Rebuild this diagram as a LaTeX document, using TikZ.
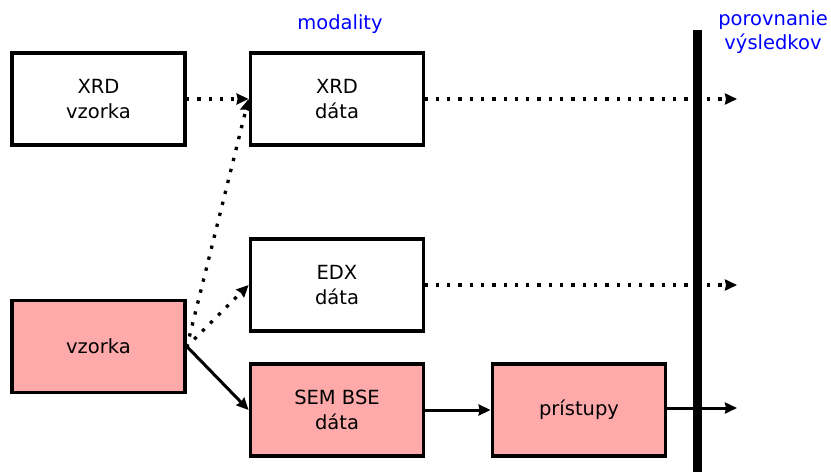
\documentclass[tikz,border=0pt]{standalone}
\usepackage{fontspec}
\setmainfont{DejaVu Sans}
\usetikzlibrary{arrows.meta}
\definecolor{pinkfill}{RGB}{255,170,170}
\definecolor{lblblue}{RGB}{0,0,255}
\tikzset{
  box/.style={draw=black, line width=3.8pt, minimum width=173pt, minimum height=92pt,
    inner sep=0pt, align=center, font=\fontsize{19.5pt}{24.5pt}\selectfont, text=black},
  pinkbox/.style={box, fill=pinkfill},
  arr/.style={line width=3pt, -{Stealth[length=12pt,width=11pt,inset=1pt]}},
  dotarr/.style={arr, line width=3.3pt, dash pattern=on 3.3pt off 8pt, dash phase=1pt},
  bluelbl/.style={text=lblblue, font=\fontsize{19.5pt}{24.5pt}\selectfont, align=center, inner sep=0pt},
}
\begin{document}
\begin{tikzpicture}[x=1pt,y=-1pt]
\useasboundingbox (0,0) rectangle (831,472);
\node[box] (xrdv) at (98.5,99) {XRD\\vzorka};
\node[box] (xrdd) at (337,99) {XRD\\dáta};
\node[box] (edxd) at (337,285) {EDX\\dáta};
\node[pinkbox] (vz) at (98.5,346.5) {vzorka};
\node[pinkbox] (sem) at (337,410) {SEM BSE\\dáta};
\node[pinkbox] (pri) at (579,410) {prístupy};
\node[bluelbl] (mod) at (340,24) {modality};
\node[bluelbl] (por) at (773,32) {porovnanie\\výsledkov};
\coordinate (bartop) at (697,30);
\coordinate (barbot) at (697,472);
\coordinate (e1) at (737,99);
\coordinate (e2) at (737,285);
\coordinate (e3) at (737,408);
\draw[line width=9pt] (bartop) -- (barbot);
\draw[dotarr] (xrdv.east) -- (xrdd.west);
\draw[dotarr] (vz.east) -- (xrdd.west);
\draw[dotarr] (vz.east) -- (edxd.west);
\draw[arr] (vz.east) -- (sem.west);
\draw[arr] (sem.east) -- (pri.west);
\draw[dotarr] (xrdd.east) -- (e1);
\draw[dotarr] (edxd.east) -- (e2);
\draw[arr] (pri.east |- e3) -- (e3);
\end{tikzpicture}
\end{document}
